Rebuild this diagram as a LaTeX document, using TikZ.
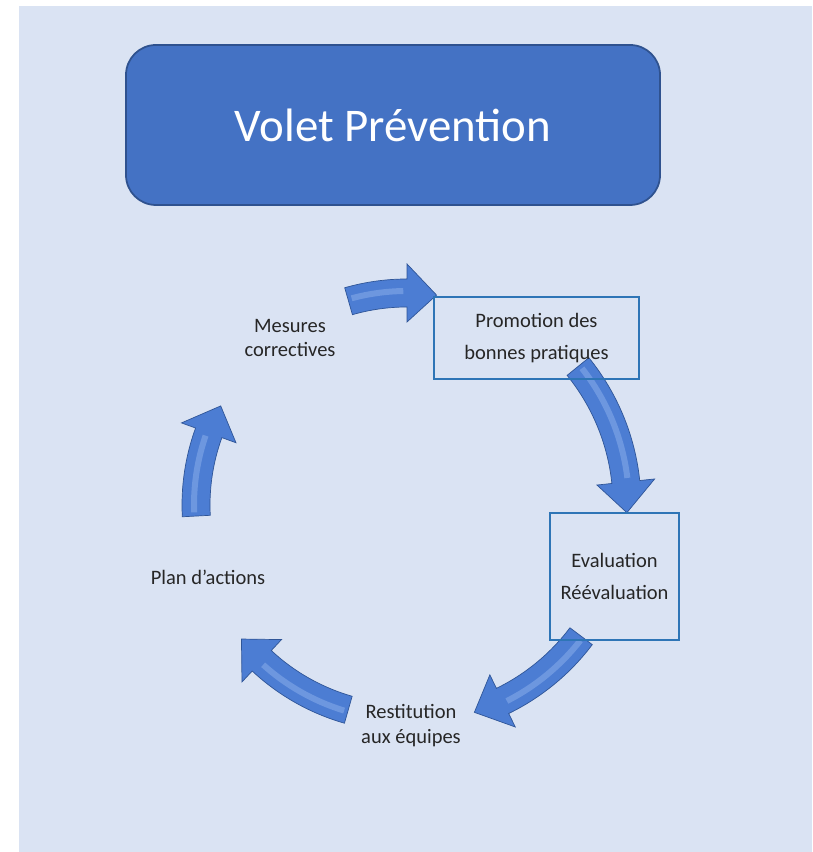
\documentclass[tikz,border=0pt]{standalone}
\usepackage{fontspec}
\setmainfont{Carlito}
\usetikzlibrary{positioning}

\definecolor{bgblue}{HTML}{DAE3F3}
\definecolor{titlefill}{HTML}{4472C4}
\definecolor{titleedge}{HTML}{2F528F}
\definecolor{boxedge}{HTML}{2E75B6}
\definecolor{arrowblue}{HTML}{4C7DD3}
\definecolor{arrowedge}{HTML}{2F5597}
\definecolor{arrowlight}{HTML}{8FB1EC}

\tikzset{
  titlebox/.style={draw=titleedge, line width=1.5pt, fill=titlefill,
    rounded corners=0.9cm, minimum width=16.02cm, minimum height=4.8cm,
    text=white, font=\fontsize{40}{48}\selectfont},
  stagebox/.style={draw=boxedge, line width=1pt, align=center,
    text=black!85, font=\fontsize{17.5}{27}\selectfont},
  stagelabel/.style={align=center, text=black!85,
    font=\fontsize{17.5}{21}\selectfont},
  cyclearrow/.style={fill=arrowblue, draw=arrowedge, line width=0.6pt},
  arrowshine/.style={draw=arrowlight, line width=0.18cm, opacity=0.5}
}

\begin{document}
\begin{tikzpicture}[x=0.03cm, y=0.03cm]
\useasboundingbox (0,0) rectangle (812,852);
\fill[bgblue] (19,0) rectangle (812,846);

\node[titlebox] (title) at (393,727) {Volet Prévention};

% curved block arrows of the cycle
\begin{scope}[shift={(407,347)}]
\foreach \a/\b/\r in {106/82/212, 39/-2/220, -37/-72/218,
                      -106/-141/213, 183/152/211} {
  \filldraw[cyclearrow] ({\a}:{\r+14})
      arc[start angle=\a, end angle=\b+8, radius=\r+14]
      -- ({\b+8}:{\r+29}) -- ({\b}:{\r}) -- ({\b+8}:{\r-29})
      -- ({\b+8}:{\r-14})
      arc[start angle=\b+8, end angle=\a, radius=\r-14] -- cycle;
  \draw[arrowshine] ({\a-1}:{\r+2})
      arc[start angle=\a-1, end angle=\b+9, radius=\r+2];
}
\end{scope}

\node[stagebox, minimum width=6.15cm, minimum height=2.46cm]
    (promo) at (536.5,514) {Promotion des\\bonnes pratiques};
\node[stagebox, minimum width=3.87cm, minimum height=3.81cm]
    (eval) at (614.5,275.5) {Evaluation\\Réévaluation};
\node[stagelabel] (mesures) at (290,514) {Mesures\\correctives};
\node[stagelabel] (plan) at (208,275) {Plan d’actions};
\node[stagelabel] (restit) at (411,126.5) {Restitution\\aux équipes};
\end{tikzpicture}
\end{document}
